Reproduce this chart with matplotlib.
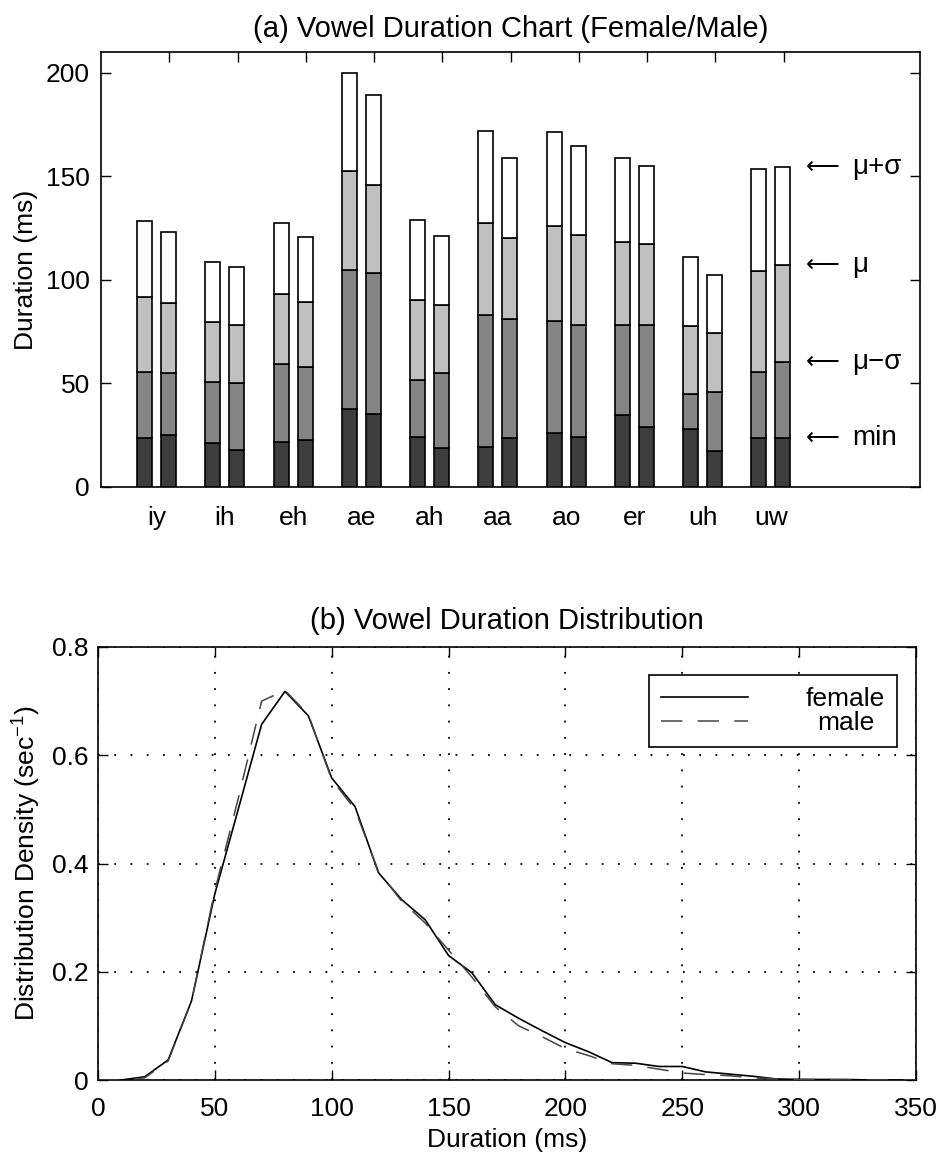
import matplotlib
matplotlib.use('Agg')
import matplotlib.pyplot as plt
import numpy as np

plt.rcParams['font.family'] = ['Liberation Sans', 'DejaVu Sans']
plt.rcParams['mathtext.default'] = 'regular'

# ---------------- data ----------------
vowels = ['iy', 'ih', 'eh', 'ae', 'ah', 'aa', 'ao', 'er', 'uh', 'uw']

female_min = [23.5, 21.3, 21.5, 37.7, 24.3, 19.4, 25.9, 34.6, 28.0, 23.6]
female_mu_minus_sigma = [55.5, 50.9, 59.5, 104.9, 51.7, 82.8, 79.9, 78.1, 44.8, 55.3]
female_mu = [91.8, 79.5, 93.3, 152.5, 90.5, 127.3, 125.8, 118.3, 77.6, 104.3]
female_mu_plus_sigma = [128.2, 108.5, 127.4, 200.0, 129.0, 171.9, 171.5, 158.6, 110.8, 153.3]

male_min = [25.1, 17.8, 22.6, 35.1, 18.6, 23.5, 24.0, 29.1, 17.3, 23.5]
male_mu_minus_sigma = [55.0, 50.4, 57.7, 103.2, 55.0, 81.3, 78.4, 78.4, 45.9, 60.3]
male_mu = [88.9, 78.1, 89.1, 146.0, 87.8, 120.0, 121.7, 117.2, 74.2, 107.2]
male_mu_plus_sigma = [123.0, 106.2, 120.8, 189.1, 121.0, 158.9, 164.4, 155.0, 102.5, 154.4]

level_names = ['min', 'μ−σ', 'μ', 'μ+σ']

duration_ms = [0, 10, 20, 30, 40, 50, 60, 70, 80, 90, 100, 110, 120, 130, 140, 150,
               160, 170, 180, 190, 200, 210, 220, 230, 240, 250, 260, 270, 280, 290,
               300, 310, 320, 330, 340, 350]
female_density = [0.0, 0.0, 0.006, 0.037, 0.146, 0.344, 0.50, 0.657, 0.718, 0.673,
                  0.558, 0.505, 0.383, 0.333, 0.296, 0.230, 0.198, 0.139, 0.114, 0.091,
                  0.069, 0.052, 0.032, 0.031, 0.025, 0.025, 0.015, 0.011, 0.007, 0.002,
                  0.001, 0.001, 0.001, 0.0, 0.0, 0.0]
male_density = [0.0, 0.0, 0.004, 0.035, 0.145, 0.35, 0.52, 0.70, 0.72, 0.675,
                0.555, 0.50, 0.385, 0.33, 0.29, 0.24, 0.19, 0.135, 0.10, 0.08,
                0.058, 0.045, 0.03, 0.027, 0.02, 0.013, 0.01, 0.008, 0.004, 0.002,
                0.001, 0.001, 0.0, 0.0, 0.0, 0.0]

# ---------------- figure ----------------
W, H = 942, 1160
fig = plt.figure(figsize=(W / 100, H / 100), dpi=100)

FS = 19
TICKLEN = 7

def px_axes(l, t, r, b):
    return fig.add_axes([l / W, 1 - b / H, (r - l) / W, (b - t) / H])

# ---- (a) bar chart ----
ax = px_axes(101, 52, 920, 487)
x = np.arange(1, len(vowels) + 1)
seg_colors = ['#3d3d3d', '#858585', '#c0c0c0', '#ffffff']
groups = [
    (-0.36, [female_min, female_mu_minus_sigma, female_mu, female_mu_plus_sigma]),
    (-0.01, [male_min, male_mu_minus_sigma, male_mu, male_mu_plus_sigma]),
]
for offs, levels in groups:
    bottom = np.zeros(len(vowels))
    for lev, col in zip(levels, seg_colors):
        lev = np.asarray(lev, dtype=float)
        ax.bar(x + offs, lev - bottom, bottom=bottom, width=0.22, color=col,
               edgecolor='black', linewidth=1.2, zorder=3)
        bottom = lev

ax.set_xlim(0, 12)
ax.set_ylim(0, 210)
ax.set_xticks(x)
ax.set_yticks([0, 50, 100, 150, 200])
ax.tick_params(axis='x', bottom=False, top=True, labelbottom=False, labeltop=False,
               direction='in', length=TICKLEN, width=1.0)
ax.tick_params(axis='y', left=True, right=True, labelleft=True, labelright=False,
               direction='in', length=TICKLEN, width=1.0, labelsize=FS, pad=8)
for s in ax.spines.values():
    s.set_linewidth(1.2)

# vowel labels at bar-pair centers
for xi, name in zip(x, vowels):
    ax.text(xi - 0.185, -15, name, ha='center', va='center', fontsize=FS, clip_on=False)

# level annotations aligned with last (male uw) bar levels
last_levels = [male_min[-1], male_mu_minus_sigma[-1], male_mu[-1], male_mu_plus_sigma[-1]]
for yv, nm in zip(last_levels, level_names):
    ax.text(10.33, yv, '⟵', ha='left', va='center', fontsize=FS - 2,
            family=['DejaVu Sans'])
    ax.text(11.0, yv, nm, ha='left', va='center', fontsize=FS + 1)

ax.set_ylabel('Duration (ms)', fontsize=FS, labelpad=6)
ax.set_title('(a) Vowel Duration Chart (Female/Male)', fontsize=FS + 2, pad=11)

# ---- (b) distribution ----
ax2 = px_axes(98, 647, 916, 1080)
ax2.plot(duration_ms, female_density, color='black', linewidth=1.2, label='female', zorder=3)
ax2.plot(duration_ms, male_density, color='#444444', linewidth=1.1,
         linestyle=(0, (14, 10)), label='male', zorder=3)
ax2.set_xlim(0, 350)
ax2.set_ylim(0, 0.8)
ax2.set_xticks(np.arange(0, 351, 50))
ax2.set_yticks([0, 0.2, 0.4, 0.6, 0.8])
ax2.set_yticklabels(['0', '0.2', '0.4', '0.6', '0.8'])
ax2.grid(True, color='black', linestyle=(0, (1, 8)), linewidth=1.3)
ax2.tick_params(axis='both', which='both', top=True, right=True, direction='in',
                length=TICKLEN, width=1.0, labelsize=FS)
ax2.tick_params(axis='y', pad=7)
ax2.tick_params(axis='x', pad=12)
for s in ax2.spines.values():
    s.set_linewidth(1.2)
ax2.set_xlabel('Duration (ms)', fontsize=FS, labelpad=5)
ax2.set_ylabel('Distribution Density (sec$^{-1}$)', fontsize=FS, labelpad=6)
ax2.set_title('(b) Vowel Duration Distribution', fontsize=FS + 2, pad=13)

leg = ax2.legend(loc='upper right', bbox_to_anchor=(0.977, 0.935), fontsize=FS,
                 handlelength=3.3, labelspacing=0.0, borderaxespad=0, fancybox=False,
                 edgecolor='black', framealpha=1, handletextpad=2.2, borderpad=0.45)
leg.get_frame().set_linewidth(1.2)
# centre the shorter label under the longer one (as in the original)
fig.canvas.draw()
r = fig.canvas.get_renderer()
texts = leg.get_texts()
wmax = max(t.get_window_extent(r).width for t in texts)
for t in texts:
    t.set_x((wmax - t.get_window_extent(r).width) / 2)

fig.savefig('out.png', dpi=100)
